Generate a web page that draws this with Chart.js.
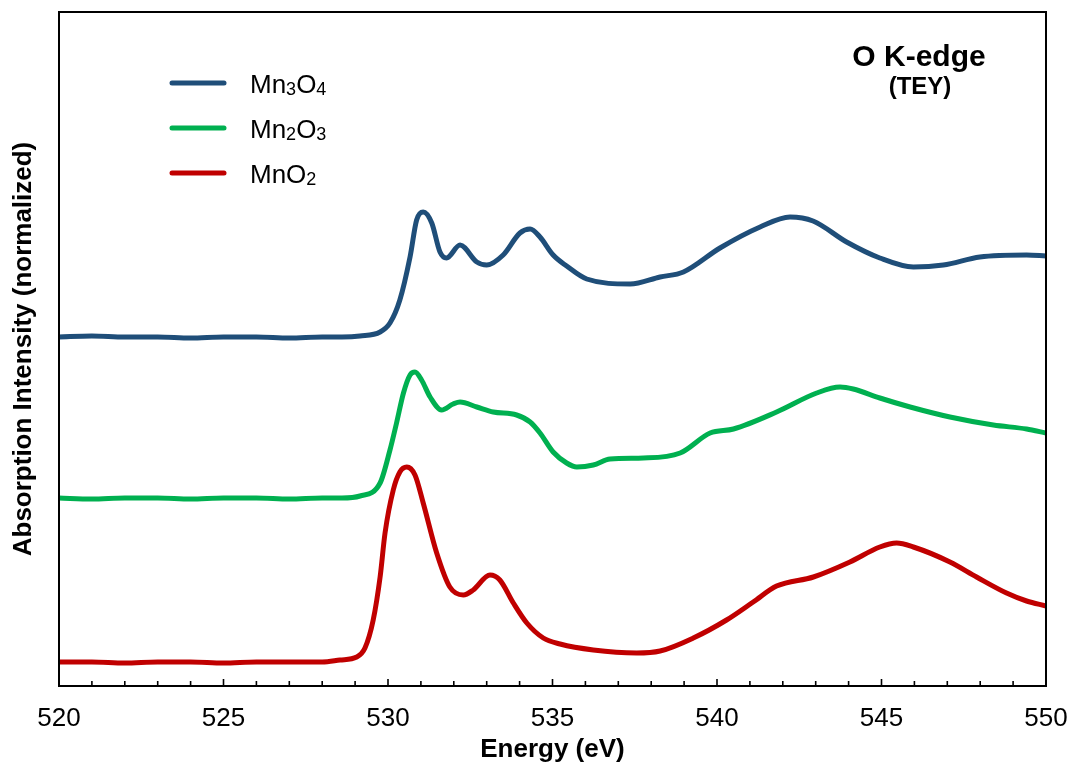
<!DOCTYPE html>
<html lang="en">
  <head>
    <meta charset="UTF-8" />
    <title>O K-edge (TEY)</title>
    <script src="https://cdn.jsdelivr.net/npm/chart.js@4.4.1/dist/chart.umd.min.js"></script>
    <style>
      body {
        margin: 0;
        background: #ffffff;
      }
      #wrap {
        width: 1069px;
        height: 765px;
      }
    </style>
  </head>
  <body>
    <div id="wrap"><canvas id="xasChart"></canvas></div>

    <script>
      // values (energy in eV, intensity in arbitrary normalized units incl. offset)
      const mn3o4Energy = [520, 521, 522, 523, 524, 525, 526, 527, 528, 528.6, 529.15, 529.76, 530.06, 530.36, 530.67, 530.87, 531.07, 531.33, 531.58, 531.78, 532.19, 532.7, 533.0, 533.5, 534.01, 534.32, 534.62, 535.02, 535.43, 536.04, 537.36, 538.27, 538.98, 540.09, 541.31, 542.22, 542.92, 543.94, 544.95, 545.97, 546.88, 547.99, 549.41, 550];
      const mn3o4Values = [3.49, 3.5, 3.49, 3.49, 3.48, 3.49, 3.49, 3.48, 3.49, 3.49, 3.5, 3.54, 3.63, 3.86, 4.29, 4.66, 4.74, 4.63, 4.34, 4.28, 4.41, 4.24, 4.21, 4.31, 4.53, 4.57, 4.49, 4.31, 4.2, 4.07, 4.02, 4.09, 4.14, 4.38, 4.59, 4.69, 4.65, 4.44, 4.28, 4.19, 4.21, 4.29, 4.31, 4.3];

      const mn2o3Energy = [520, 521, 522, 523, 524, 525, 526, 527, 528, 528.6, 529.15, 529.76, 530.06, 530.26, 530.47, 530.67, 530.82, 531.02, 531.28, 531.63, 531.98, 532.19, 532.7, 533.2, 533.91, 534.32, 534.62, 535.02, 535.43, 535.74, 536.24, 536.75, 537.76, 538.88, 539.79, 540.5, 541.81, 543.03, 543.74, 544.14, 544.95, 545.87, 547.08, 548.4, 549.41, 550];
      const mn2o3Values = [1.88, 1.87, 1.88, 1.88, 1.87, 1.88, 1.88, 1.87, 1.88, 1.88, 1.9, 2.03, 2.36, 2.63, 2.93, 3.11, 3.14, 3.06, 2.89, 2.76, 2.82, 2.84, 2.79, 2.74, 2.71, 2.64, 2.53, 2.34, 2.23, 2.19, 2.21, 2.27, 2.28, 2.33, 2.53, 2.57, 2.74, 2.93, 2.99, 2.97, 2.88, 2.79, 2.69, 2.61, 2.57, 2.53];

      const mno2Energy = [520, 521, 522, 523, 524, 525, 526, 527, 528, 528.54, 529.05, 529.3, 529.55, 529.76, 529.91, 530.16, 530.36, 530.57, 530.82, 531.07, 531.48, 531.88, 532.29, 532.59, 533.1, 533.4, 533.81, 534.22, 534.72, 535.23, 536.24, 537.56, 538.27, 539.28, 540.29, 541.1, 541.81, 542.93, 544.04, 544.95, 545.46, 545.97, 547.08, 547.89, 548.8, 549.41, 550];
      const mno2Values = [0.24, 0.24, 0.23, 0.24, 0.24, 0.23, 0.24, 0.24, 0.24, 0.26, 0.29, 0.38, 0.66, 1.09, 1.53, 1.96, 2.14, 2.19, 2.11, 1.83, 1.33, 0.99, 0.91, 0.96, 1.11, 1.06, 0.83, 0.63, 0.48, 0.42, 0.36, 0.33, 0.35, 0.48, 0.66, 0.84, 1.0, 1.09, 1.24, 1.39, 1.43, 1.39, 1.24, 1.09, 0.93, 0.85, 0.8];

      const seriesLabels = ["Mn₃O₄", "Mn₂O₃", "MnO₂"];
      // legend text pieces: [main, subscript] pairs
      const legendParts = [
        [["Mn", "3"], ["O", "4"]],
        [["Mn", "2"], ["O", "3"]],
        [["MnO", "2"]],
      ];
      const seriesColors = ["#1f4e79", "#00b050", "#c00000"];
      const xTickMajor = [520, 525, 530, 535, 540, 545, 550];

      const FONT = "'Liberation Sans', Arial, sans-serif";

      function toPoints(xs, ys) {
        return xs.map((x, i) => ({ x: x, y: ys[i] }));
      }

      // frame, inward ticks, legend and panel title
      const decorations = {
        id: "decorations",
        afterDatasetsDraw(chart) {
          const ctx = chart.ctx;
          const area = chart.chartArea;
          const xScale = chart.scales.x;
          ctx.save();

          // inward tick marks on the energy axis
          ctx.strokeStyle = "#000";
          ctx.lineWidth = 1.6;
          for (let v = 520; v <= 550; v++) {
            const px = xScale.getPixelForValue(v);
            const len = xTickMajor.includes(v) ? 7 : 5;
            ctx.beginPath();
            ctx.moveTo(px, area.bottom);
            ctx.lineTo(px, area.bottom - len);
            ctx.stroke();
          }

          // box round the plot
          ctx.lineWidth = 2;
          ctx.strokeRect(area.left, area.top, area.right - area.left, area.bottom - area.top);

          // legend
          const rowY = [83, 128, 173];
          chart.data.datasets.forEach((ds, i) => {
            const y = rowY[i];
            ctx.strokeStyle = ds.borderColor;
            ctx.lineWidth = 5;
            ctx.lineCap = "round";
            ctx.beginPath();
            ctx.moveTo(172, y);
            ctx.lineTo(224, y);
            ctx.stroke();

            let tx = 250;
            ctx.fillStyle = "#000";
            ctx.textBaseline = "alphabetic";
            ctx.textAlign = "left";
            legendParts[i].forEach((part) => {
              ctx.font = "26px " + FONT;
              ctx.fillText(part[0], tx, y + 10);
              tx += ctx.measureText(part[0]).width;
              ctx.font = "18px " + FONT;
              ctx.fillText(part[1], tx, y + 12);
              tx += ctx.measureText(part[1]).width;
            });
          });

          // panel title
          ctx.fillStyle = "#000";
          ctx.textAlign = "center";
          ctx.textBaseline = "alphabetic";
          ctx.font = "bold 30px " + FONT;
          ctx.fillText("O K-edge", 919, 66);
          ctx.font = "bold 24px " + FONT;
          ctx.fillText("(TEY)", 920, 94);

          ctx.restore();
        },
      };

      const ctx = document.getElementById("xasChart").getContext("2d");
      new Chart(ctx, {
        type: "line",
        data: {
          datasets: [
            { label: seriesLabels[0], data: toPoints(mn3o4Energy, mn3o4Values), borderColor: seriesColors[0] },
            { label: seriesLabels[1], data: toPoints(mn2o3Energy, mn2o3Values), borderColor: seriesColors[1] },
            { label: seriesLabels[2], data: toPoints(mno2Energy, mno2Values), borderColor: seriesColors[2] },
          ].map((d) => ({
            ...d,
            borderWidth: 5,
            pointRadius: 0,
            fill: false,
            cubicInterpolationMode: "monotone",
            borderCapStyle: "round",
            borderJoinStyle: "round",
          })),
        },
        options: {
          responsive: true,
          maintainAspectRatio: false,
          animation: false,
          layout: {
            padding: { top: 12, right: 23, left: 0, bottom: 0 },
          },
          plugins: {
            legend: { display: false },
            tooltip: { enabled: false },
          },
          scales: {
            x: {
              type: "linear",
              min: 520,
              max: 550,
              afterFit: (scale) => {
                scale.height = 79;
                scale.paddingLeft = 0;
                scale.paddingRight = 0;
              },
              grid: { display: false, drawTicks: false },
              border: { display: false },
              ticks: {
                stepSize: 5,
                padding: 17,
                color: "#000",
                font: { family: FONT, size: 26 },
                maxRotation: 0,
              },
              title: {
                display: true,
                text: "Energy (eV)",
                color: "#000",
                font: { family: FONT, size: 26, weight: "bold" },
                padding: { top: 0, bottom: 0 },
              },
            },
            y: {
              min: 0,
              max: 6.74,
              afterFit: (scale) => {
                scale.width = 59;
              },
              grid: { display: false, drawTicks: false },
              border: { display: false },
              ticks: { display: false },
              title: {
                display: true,
                text: "Absorption Intensity (normalized)",
                color: "#000",
                font: { family: FONT, size: 26, weight: "bold" },
                padding: { top: 8, bottom: 0 },
              },
            },
          },
        },
        plugins: [decorations],
      });
    </script>
  </body>
</html>
